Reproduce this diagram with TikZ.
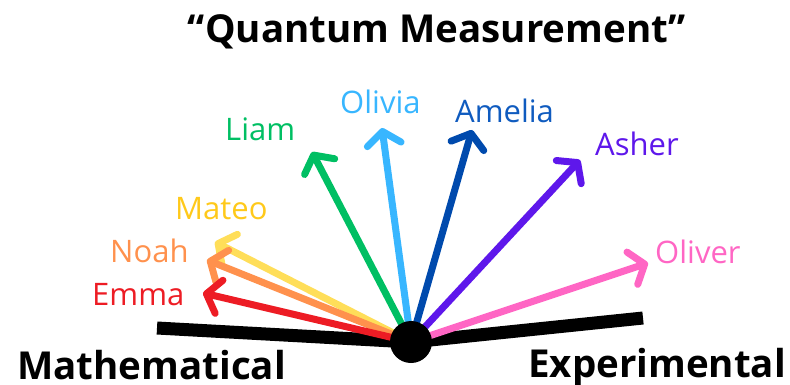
\documentclass[tikz,border=0pt]{standalone}
\usepackage{fontspec}
\setmainfont{Open Sans}
\usetikzlibrary{arrows.meta}
\definecolor{cEmma}{HTML}{ED1C24}
\definecolor{cNoah}{HTML}{FF914D}
\definecolor{cMateoT}{HTML}{FFC91A}
\definecolor{cMateo}{HTML}{FFDE59}
\definecolor{cLiam}{HTML}{00BF63}
\definecolor{cOlivia}{HTML}{38B6FF}
\definecolor{cAmelia}{HTML}{004AAD}
\definecolor{cAmeliaT}{HTML}{0F5BBF}
\definecolor{cAsher}{HTML}{5E17EB}
\definecolor{cOliver}{HTML}{FF66C4}
\tikzset{
  lbl/.style={font=\fontsize{31}{31}\selectfont, inner sep=0pt, anchor=base west},
  ttl/.style={font=\fontsize{38.5}{38.5}\selectfont\bfseries, inner sep=0pt, anchor=base west},
  vec/.style={line width=7pt, line cap=round, -{Straight Barb[length=13pt,width=34pt,round]}},
}
\begin{document}
\begin{tikzpicture}[x=1pt,y=-1pt]
\useasboundingbox (0,0) rectangle (790,384);
% title and axis labels
\node[ttl, anchor=base] (title) at (437,42) {“Quantum Measurement”};
\node[ttl] (math) at (17,379) {Mathematical};
\node[ttl] (exp) at (528,377) {Experimental};
% center
\coordinate (c) at (411,342);
\coordinate (mL) at (157,328);
\coordinate (mR) at (643,318);
% names
\node[lbl, text=cEmma] (emma) at (92,305) {Emma};
\node[lbl, text=cNoah] (noah) at (110,262) {Noah};
\node[lbl, text=cMateoT] (mateo) at (175,219) {Mateo};
\node[lbl, text=cLiam] (liam) at (225,140) {Liam};
\node[lbl, text=cOlivia] (olivia) at (340,113) {Olivia};
\node[lbl, text=cAmeliaT] (amelia) at (455,122) {Amelia};
\node[lbl, text=cAsher] (asher) at (595,155) {Asher};
\node[lbl, text=cOliver] (oliver) at (655,263) {Oliver};
% arrow tips
\coordinate (tEmma) at (203,293);
\coordinate (tNoah) at (207,260);
\coordinate (tMateo) at (215,242);
\coordinate (tLiam) at (312,152);
\coordinate (tOlivia) at (382,128);
\coordinate (tAmelia) at (472,130);
\coordinate (tAsher) at (580,160);
\coordinate (tOliver) at (648,263);
% axis bar
\draw[line width=13pt] (mL) -- (c) -- (mR);
% arrows
\draw[vec, cMateo] (c) -- (tMateo);
\draw[vec, cNoah] (c) -- (tNoah);
\draw[vec, cEmma] (c) -- (tEmma);
\draw[vec, cLiam] (c) -- (tLiam);
\draw[vec, cOlivia] (c) -- (tOlivia);
\draw[vec, cAmelia] (c) -- (tAmelia);
\draw[vec, cAsher] (c) -- (tAsher);
\draw[vec, cOliver] (c) -- (tOliver);
\node[circle, fill=black, minimum size=42pt, inner sep=0pt] (dot) at (c) {};
\end{tikzpicture}
\end{document}
